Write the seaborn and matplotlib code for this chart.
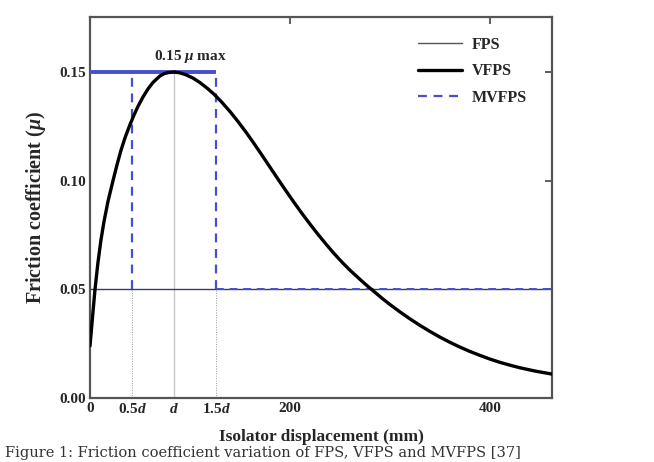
import numpy as np
import pandas as pd
import seaborn as sns
import matplotlib.pyplot as plt
from matplotlib.lines import Line2D

# values
d = 84
disp_vfps = [0, 2, 5, 8, 11, 14, 18, 23, 27, 31, 35, 40, 44, 48, 53, 58, 63, 70, 74,
             78, 84, 90, 96, 103, 110, 117, 124, 132, 140, 148, 156, 164, 172, 180,
             188, 196, 204, 212, 220, 228, 236, 244, 252, 260, 268, 276, 284, 292,
             300, 310, 320, 330, 340, 350, 360, 370, 380, 390, 400, 410, 420, 430,
             445, 462]
mu_vfps = [0.0240, 0.0345, 0.0500, 0.0625, 0.0728, 0.0812, 0.0905, 0.1000, 0.1073,
           0.1140, 0.1197, 0.1258, 0.1302, 0.1342, 0.1385, 0.1422, 0.1452, 0.1482,
           0.1492, 0.1497, 0.1500, 0.1496, 0.1487, 0.1472, 0.1451, 0.1426, 0.1398,
           0.1360, 0.1318, 0.1272, 0.1223, 0.1171, 0.1117, 0.1062, 0.1007, 0.0953,
           0.0900, 0.0849, 0.0800, 0.0753, 0.0708, 0.0665, 0.0625, 0.0588, 0.0554,
           0.0521, 0.0490, 0.0459, 0.0430, 0.0396, 0.0364, 0.0334, 0.0306, 0.0280,
           0.0256, 0.0234, 0.0214, 0.0196, 0.0179, 0.0164, 0.0151, 0.0139, 0.0124,
           0.0110]
mu_fps = 0.05
mu_max = 0.15
x_max = 462
xtick_major = [0, 200, 400]
xtick_d = [0.5 * d, d, 1.5 * d]
xtick_d_labels = ['0.5$d$', '$d$', '1.5$d$']
yticks = [0.00, 0.05, 0.10, 0.15]

sns.set_style("white")
plt.rcParams['font.family'] = ['Liberation Serif', 'DejaVu Serif']
plt.rcParams['font.weight'] = 'bold'
plt.rcParams['mathtext.fontset'] = 'custom'
plt.rcParams['mathtext.it'] = 'Liberation Serif:italic:bold'
plt.rcParams['mathtext.rm'] = 'Liberation Serif:bold'

fig = plt.figure(figsize=(6.54, 4.62), dpi=100)
ax = fig.add_axes([90 / 654, 64 / 462, 462 / 654, 381 / 462])

blue = '#4650cc'
navy = '#3a3a66'

# guide lines
ax.plot([d, d], [0, mu_max], color='#c8c8c8', lw=1.0, zorder=1)
for xv in [0.5 * d, 1.5 * d]:
    ax.plot([xv, xv], [0, mu_fps], color='#9a9a9a', lw=0.7, ls=(0, (1, 1.5)), zorder=1)

# FPS
ax.plot([0, x_max], [mu_fps, mu_fps], color=navy, lw=1.0, zorder=2)

# MVFPS
ax.plot([0, 1.5 * d], [mu_max, mu_max], color=blue, lw=2.8, solid_capstyle='butt', zorder=3)
for xv in [0.5 * d, 1.5 * d]:
    ax.plot([xv, xv], [mu_fps, mu_max], color=blue, lw=1.6, ls=(0, (4, 3)), zorder=3)
ax.plot([1.5 * d, x_max], [mu_fps, mu_fps], color=blue, lw=1.4, ls=(0, (4, 3)), zorder=3)

# VFPS
df = pd.DataFrame({'x': disp_vfps, 'mu': mu_vfps})
sns.lineplot(data=df, x='x', y='mu', color='black', lw=2.4, ax=ax, zorder=4)

ax.text(190 - 90, mu_max + 0.0033, '0.15 $\\mu$ max', ha='center', va='bottom',
        fontsize=11, fontweight='bold')

ax.set_xlim(0, x_max)
ax.set_ylim(0, 0.1753)
ax.set_xticks(xtick_major)
ax.set_xticklabels([str(v) for v in xtick_major])
ax.set_xticks(xtick_d, minor=True)
ax.set_xticklabels(xtick_d_labels, minor=True)
ax.set_yticks(yticks)
ax.set_yticklabels([f'{v:.2f}' for v in yticks])
ax.tick_params(which='major', direction='in', top=True, right=True, length=5,
               width=1.2, color='#444444', labelsize=11, pad=3)
ax.tick_params(axis='x', which='minor', length=0, labelsize=11, pad=3)
ax.tick_params(axis='x', which='major', pad=3)
for lab in ax.get_xticklabels() + ax.get_yticklabels() + ax.get_xticklabels(minor=True):
    lab.set_fontweight('bold')

for s in ax.spines.values():
    s.set_color('#555555')
    s.set_linewidth(1.6)

ax.set_xlabel('Isolator displacement (mm)', fontsize=12.5, fontweight='bold', labelpad=9)
ax.set_ylabel('Friction coefficient ($\\mu$)', fontsize=14.5, fontweight='bold', labelpad=8)

handles = [Line2D([], [], color='#555555', lw=1.0),
           Line2D([], [], color='black', lw=2.4),
           Line2D([], [], color=blue, lw=1.6, ls=(0, (4, 3)))]
ax.legend(handles, ['FPS', 'VFPS', 'MVFPS'], loc='upper left', frameon=False,
          bbox_to_anchor=((418 - 90) / 462, (398 - 37) / 381), borderaxespad=0,
          borderpad=0, handlelength=2.75, handletextpad=0.6, labelspacing=0.65,
          prop={'family': 'Liberation Serif', 'weight': 'bold', 'size': 11.5})

fig.text(0.008, 0.004, 'Figure 1: Friction coefficient variation of FPS, VFPS and MVFPS [37]',
         fontsize=10.5, fontweight='normal', color='#333333', va='bottom', ha='left',
         family='DejaVu Serif')

fig.savefig('out.png', dpi=100)
